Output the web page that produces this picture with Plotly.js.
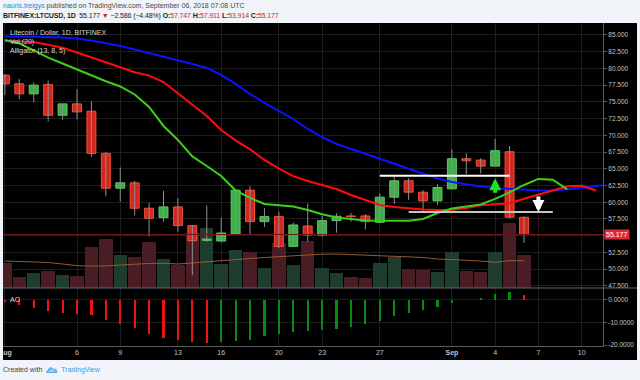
<!DOCTYPE html>
<html>
<head>
<meta charset="utf-8">
<script src="https://cdn.plot.ly/plotly-3.0.1.min.js"></script>
<style>
  html, body { margin:0; padding:0; }
  body { width:640px; height:380px; overflow:hidden; background:#f0f3f7; position:relative;
         font-family:'Liberation Sans', Arial, sans-serif; }
  .hdr { position:absolute; left:3px; white-space:nowrap; font-size:7px; line-height:9px; }
  #h1 { top:1px; color:#4a4a4a; }
  #h1 .user { color:#2b87da; }
  #h2 { top:11px; color:#222; letter-spacing:-0.12px; }
  #h2 b { font-weight:bold; }
  #h2 .red { color:#c8282c; }
  #chart { position:absolute; left:3px; top:23px; width:634px; height:337px; }
  #foot { position:absolute; left:3px; top:365px; font-size:7px; line-height:9px; color:#444; white-space:nowrap; }
  #foot .tv { color:#3d9ae6; }
  #foot svg { vertical-align:-2px; margin:0 3px 0 4px; }
</style>
</head>
<body>
<div class="hdr" id="h1"><span class="user">nauris.treigys</span> published on TradingView.com, September 06, 2018 07:08 UTC</div>
<div class="hdr" id="h2"></div>
<div id="chart"></div>
<div id="foot">Created with<svg width="12" height="8" viewBox="0 0 12 8"><path d="M1 7 C0 7 0 4 2 4 C2 1 6 0 7 3 C8 2 11 2 11 5 C12 7 11 7 10 7 Z" fill="#5fb0ee"/><path d="M3 6 L5 4 L7 5.5 L9 3.5" stroke="#fff" stroke-width="0.8" fill="none"/></svg><span class="tv">TradingView</span></div>
<script>
// ---------------- DATA ----------------
const days = ['2018-08-01','2018-08-02','2018-08-03','2018-08-04','2018-08-05','2018-08-06','2018-08-07','2018-08-08','2018-08-09','2018-08-10',
  '2018-08-11','2018-08-12','2018-08-13','2018-08-14','2018-08-15','2018-08-16','2018-08-17','2018-08-18','2018-08-19','2018-08-20',
  '2018-08-21','2018-08-22','2018-08-23','2018-08-24','2018-08-25','2018-08-26','2018-08-27','2018-08-28','2018-08-29','2018-08-30',
  '2018-08-31','2018-09-01','2018-09-02','2018-09-03','2018-09-04','2018-09-05','2018-09-06','2018-09-07','2018-09-08','2018-09-09',
  '2018-09-10','2018-09-11','2018-09-12','2018-09-13'];

const open  = [79.0,77.7,76.2,77.6,73.0,74.7,73.6,67.3,62.1,62.9,59.1,57.7,59.3,56.5,54.3,54.2,55.25,61.8,57.1,57.85,
               53.4,56.45,55.1,57.25,57.95,57.95,57.0,60.75,63.2,61.5,60.2,62.0,66.5,66.3,65.4,67.55,57.747];
const high  = [79.1,78.4,77.9,78.2,74.7,76.9,75.1,67.5,65.2,63.2,59.9,61.7,60.6,56.6,59.5,57.7,61.9,62.4,59.1,58.6,
               56.95,59.8,58.0,58.35,58.4,58.25,61.35,63.8,63.6,61.8,62.7,67.9,67.3,66.6,69.45,68.4,57.911];
const low   = [76.0,75.4,74.9,72.1,72.3,72.4,66.8,60.9,60.1,58.0,54.9,57.1,55.6,49.1,54.1,54.0,55.2,55.25,56.3,53.1,
               53.3,54.1,54.85,55.45,57.1,55.95,56.85,59.75,60.35,58.6,59.6,62.0,64.2,64.3,65.4,57.6,53.914];
const close = [77.7,76.2,77.5,73.0,74.7,73.5,67.3,62.1,62.9,59.1,57.6,59.3,56.5,54.25,54.5,55.4,61.8,57.1,57.85,53.4,
               56.6,55.1,57.25,57.9,57.85,57.1,60.75,63.2,61.5,60.2,62.2,66.5,66.2,65.4,67.7,57.763,55.177];

const volume   = [494,226,306,346,260,240,814,980,660,614,914,580,460,1094,1194,474,760,720,406,906,
                  460,946,406,294,226,194,506,626,374,360,314,726,340,326,720,1306,660];
const volumeMA = [540,530,520,510,480,446,440,440,460,480,490,494,480,500,526,550,574,590,610,626,
                  646,666,676,680,670,660,646,634,620,610,580,570,560,540,514,546,546];

// Alligator (13, 8, 5): jaw / teeth / lips, shifted forward
const jaw   = [84.78,84.78,84.70,84.70,84.63,84.48,84.18,83.80,83.36,82.83,82.31,81.79,81.26,80.67,80.07,79.02,77.68,76.18,74.84,73.64,
               72.44,70.95,69.75,68.71,67.96,67.29,66.54,65.72,64.97,64.22,63.55,63.03,62.65,62.35,62.13,61.98,61.83,61.76,61.76,61.91,
               62.13,62.43,62.73,62.88];
const teeth = [84.10,84.03,83.95,83.54,83.10,82.38,81.68,80.96,80.17,79.42,78.93,77.97,76.26,74.54,72.89,70.80,69.24,67.91,66.32,65.01,
               63.89,63.18,62.53,61.98,61.08,60.38,59.59,59.29,59.07,58.92,58.84,58.84,59.14,59.54,59.69,59.84,60.53,61.19,61.76,62.38,
               62.47,61.76];
const lips  = [84.25,83.73,82.71,81.61,80.74,79.84,78.98,78.09,77.30,76.11,74.24,71.40,69.31,66.84,65.42,63.92,61.76,60.64,59.74,59.51,
               59.37,58.84,58.21,57.72,57.53,57.27,57.24,57.24,57.24,57.50,58.39,59.07,59.41,59.66,60.49,61.46,62.58,63.48,63.37,61.91];

// Awesome Oscillator
const ao = [-0.7,-2.2,-3.7,-5.1,-5.9,-6.2,-6.6,-8.8,-10.7,-12.6,-15.1,-16.9,-17.6,-18.8,-19.1,-18.6,-18.2,-17.6,-15.9,-15.3,
            -14.4,-13.7,-13.5,-12.9,-11.8,-10.6,-9.3,-7.3,-5.6,-4.4,-2.9,-1.5,0.1,0.7,2.6,3.5,2.2];

// Drawn levels and arrows
const levelDates  = [['2018-08-27','2018-09-05'], ['2018-08-29','2018-09-08']];
const levelPrices = [63.95, 58.55];
const arrowDates  = ['2018-09-04','2018-09-07'];
const arrowPrices = [63.6, 58.55];

const tickDays   = ['2018-08-01','2018-08-06','2018-08-09','2018-08-13','2018-08-16','2018-08-20','2018-08-23','2018-08-27',
                    '2018-09-01','2018-09-04','2018-09-07','2018-09-10'];
const tickLabels = ['<b>Aug</b>','6','9','13','16','20','23','27','<b>Sep</b>','4','7','10'];
const priceTicks = [47.5,50,52.5,55,57.5,60,62.5,65,67.5,70,72.5,75,77.5,80,82.5,85];
const priceTickText = ['47.500','50.000','52.500','','57.500','60.000','62.500','65.000','67.500','70.000',
                       '72.500','75.000','77.500','80.000','82.500','85.000'];
const aoTicks    = [0,-10,-20];
const aoTickText = ['0.0000','-10.0000','-20.0000'];

// ---------------- HEADER ----------------
const n = close.length;
const last = close[n-1], prev = close[n-2];
const chg = last - prev, pct = chg / prev * 100;
const fmt = v => (v < 0 ? '\u2212' : '') + Math.abs(v).toFixed(3);
document.getElementById('h2').innerHTML =
  '<b>BITFINEX:LTCUSD, 1D</b>&nbsp; ' + last.toFixed(3) + ' <span class="red">\u25BC</span> ' +
  fmt(chg) + ' (' + (pct < 0 ? '\u2212' : '') + Math.abs(pct).toFixed(2) + '%) ' +
  '<b>O:</b><span class="red">' + open[n-1].toFixed(3) + '</span> ' +
  '<b>H:</b><span class="red">' + high[n-1].toFixed(3) + '</span> ' +
  '<b>L:</b><span class="red">' + low[n-1].toFixed(3) + '</span> ' +
  '<b>C:</b><span class="red">' + close[n-1].toFixed(3) + '</span>';

// ---------------- CHART ----------------
const FONT = 'Liberation Sans, Arial, sans-serif';
const cDays = days.slice(0, n);
const up = close.map((c, i) => c >= open[i]);
const DAY = 86400000;

const wickX = [], wickY = [];
cDays.forEach((d, i) => { wickX.push(d, d, null); wickY.push(low[i], high[i], null); });

const bodyBase = open.map((o, i) => Math.min(o, close[i]));
const bodyH = open.map((o, i) => Math.abs(close[i] - o));

const aoColor = ao.map((v, i) => (i > 0 && v >= ao[i-1]) ? '#0b8a12' : '#ee1414');

const traces = [
  { type:'bar', x:cDays, y:volume, xaxis:'x', yaxis:'y', width:0.93*DAY,
    marker:{ color: up.map(u => u ? '#1f3d2e' : '#4a1c23'), line:{width:0} }, hoverinfo:'skip' },
  { type:'scatter', mode:'lines', x:cDays, y:volumeMA, xaxis:'x', yaxis:'y',
    line:{ color:'#9a5a2e', width:1 }, hoverinfo:'skip' },
  { type:'scatter', mode:'lines', x:wickX, y:wickY, xaxis:'x', yaxis:'y3',
    line:{ color:'#8f8f8f', width:1 }, hoverinfo:'skip' },
  { type:'bar', x:cDays, y:bodyH, base:bodyBase, xaxis:'x', yaxis:'y3', width:0.62*DAY,
    marker:{ color: up.map(u => u ? '#3dae4a' : '#d3261f'),
             line:{ color: up.map(u => u ? '#5ccb68' : '#f0503c'), width:1 } }, hoverinfo:'skip' },
  { type:'scatter', mode:'lines', x:days.slice(0, jaw.length), y:jaw, xaxis:'x', yaxis:'y3',
    line:{ color:'#0a14ff', width:2 }, hoverinfo:'skip' },
  { type:'scatter', mode:'lines', x:days.slice(0, teeth.length), y:teeth, xaxis:'x', yaxis:'y3',
    line:{ color:'#ff0d0d', width:2 }, hoverinfo:'skip' },
  { type:'scatter', mode:'lines', x:days.slice(0, lips.length), y:lips, xaxis:'x', yaxis:'y3',
    line:{ color:'#3cd019', width:2 }, hoverinfo:'skip' },
  { type:'bar', x:cDays, y:ao, xaxis:'x', yaxis:'y2', width:0.15*DAY,
    marker:{ color:aoColor, line:{width:0} }, hoverinfo:'skip' }
];

const GRID = '#1d1d1d';
const SPLIT = 0.1796;

const shapes = [
  { type:'line', xref:'paper', x0:0, x1:1, yref:'y3', y0:last, y1:last, layer:'above',
    line:{ color:'#6e1616', width:1 } },
  { type:'line', xref:'paper', x0:0, x1:634/600, yref:'paper', y0:SPLIT, y1:SPLIT,
    line:{ color:'#6a6a6a', width:1 } }
];
levelPrices.forEach((p, i) => shapes.push({
  type:'line', xref:'x', yref:'y3', x0:levelDates[i][0], x1:levelDates[i][1], y0:p, y1:p,
  line:{ color: i === 0 ? '#ffffff' : '#c4c4c4', width:2 }
}));

const annotations = [
  { xref:'paper', yref:'paper', x:0.008, y:0.9706, xanchor:'left', yanchor:'middle', showarrow:false,
    text:'Litecoin / Dollar, 1D, BITFINEX', font:{ family:FONT, size:7, color:'#d8d8d8' } },
  { xref:'paper', yref:'paper', x:0.008, y:0.942, xanchor:'left', yanchor:'middle', showarrow:false,
    text:'Vol (20)', font:{ family:FONT, size:7, color:'#d8d8d8' } },
  { xref:'paper', yref:'paper', x:0.008, y:0.9127, xanchor:'left', yanchor:'middle', showarrow:false,
    text:'Alligator (13, 8, 5)', font:{ family:FONT, size:7, color:'#d8d8d8' } },
  { xref:'paper', yref:'paper', x:0.008, y:0.1455, xanchor:'left', yanchor:'middle', showarrow:false,
    text:'AO', font:{ family:FONT, size:7, color:'#d8d8d8' } },
  { xref:'paper', yref:'y3', x:1, y:last, xanchor:'left', yanchor:'middle', xshift:1, showarrow:false,
    text:last.toFixed(3), bgcolor:'#e02a2a', borderpad:1, font:{ family:FONT, size:7, color:'#ffffff' } },
  { xref:'x', yref:'y3', x:arrowDates[0], y:arrowPrices[0], ax:0, ay:16, text:'', showarrow:true,
    arrowhead:2, arrowsize:0.6, arrowwidth:4, arrowcolor:'#1de41d' },
  { xref:'x', yref:'y3', x:arrowDates[1], y:arrowPrices[1], ax:0, ay:-17, text:'', showarrow:true,
    arrowhead:2, arrowsize:0.6, arrowwidth:4, arrowcolor:'#ffffff' }
];

const layout = {
  width:634, height:337,
  margin:{ l:0, r:34, t:0, b:14, pad:0 },
  paper_bgcolor:'#000', plot_bgcolor:'#000',
  showlegend:false, barmode:'overlay', bargap:0,
  font:{ family:FONT, size:7, color:'#c4c4c4' },
  xaxis:{ type:'date', anchor:'y2', range:['2018-07-31 20:50','2018-09-11 11:30'],
          tickvals:tickDays, ticktext:tickLabels, tickfont:{ size:7, color:'#c4c4c4' },
          ticklabeloverflow:'allow',
          showgrid:true, gridcolor:GRID, gridwidth:1, zeroline:false,
          showline:true, linecolor:'#5a5a5a', ticks:'', fixedrange:true },
  yaxis:{ domain:[SPLIT, 1], range:[0, 5300], visible:false, showgrid:false, fixedrange:true },
  yaxis3:{ overlaying:'y', anchor:'x', side:'right', range:[47.18, 86.79],
           tickvals:priceTicks, ticktext:priceTickText, tickfont:{ size:6.5, color:'#c4c4c4' },
           showgrid:true, gridcolor:GRID, zeroline:false,
           showline:true, linecolor:'#5a5a5a', ticks:'outside', ticklen:3, tickcolor:'#5a5a5a', fixedrange:true },
  yaxis2:{ domain:[0, SPLIT], anchor:'x', side:'right', range:[-20.44, 5.33],
           tickvals:aoTicks, ticktext:aoTickText, tickfont:{ size:6.5, color:'#c4c4c4' },
           showgrid:true, gridcolor:GRID, zeroline:false,
           showline:true, linecolor:'#5a5a5a', ticks:'outside', ticklen:3, tickcolor:'#5a5a5a', fixedrange:true },
  shapes:shapes, annotations:annotations
};

Plotly.newPlot('chart', traces, layout, { displayModeBar:false, staticPlot:true });
</script>
</body>
</html>
